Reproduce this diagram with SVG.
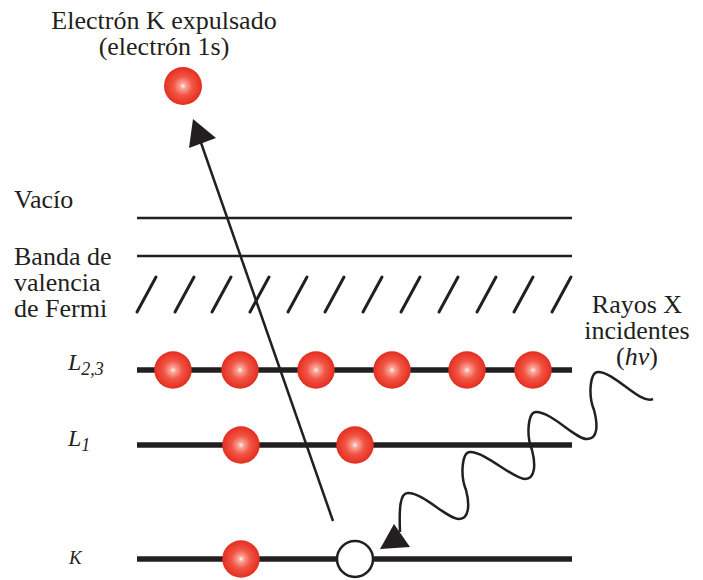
<svg xmlns="http://www.w3.org/2000/svg" width="703" height="580" viewBox="0 0 703 580">
<defs>
<radialGradient id="eg" cx="50%" cy="50%" r="50%">
<stop offset="0" stop-color="#fff6f2"/>
<stop offset="0.15" stop-color="#f9a598"/>
<stop offset="0.5" stop-color="#f25545"/>
<stop offset="0.85" stop-color="#e9392a"/>
<stop offset="1" stop-color="#df3022"/>
</radialGradient>
<style>
text{font-family:'Liberation Serif','Tinos','Times New Roman','DejaVu Serif',serif;font-size:26px;fill:#231f20}
.i{font-style:italic}
.thin{stroke:#231f20;stroke-width:2.5;fill:none}
.thick{stroke:#231f20;stroke-width:5.5;fill:none}
.sl{stroke:#231f20;stroke-width:3;stroke-linecap:round}
.e{fill:url(#eg)}
.h{fill:#fff;stroke:#231f20;stroke-width:2.5}
.c{stroke:#231f20;stroke-width:2.5;fill:none}
.ah{fill:#231f20}
</style>
</defs>
<rect width="703" height="580" fill="#fff"/>

<g id="title">
<text x="164" y="29" text-anchor="middle">Electrón K expulsado</text>
<text x="164" y="55" text-anchor="middle">(electrón 1s)</text>
</g>

<g id="labels">
<text x="14" y="208">Vacío</text>
<text x="14" y="265">Banda de</text>
<text x="14" y="291">valencia</text>
<text x="14" y="317">de Fermi</text>
<text class="i" x="68" y="370" style="font-size:24px">L<tspan dy="5" style="font-size:18px">2,3</tspan></text>
<text class="i" x="68" y="446" style="font-size:24px">L<tspan dy="5" style="font-size:18px">1</tspan></text>
<text class="i" x="69" y="564" style="font-size:19px">K</text>
<text x="637" y="313" text-anchor="middle">Rayos X</text>
<text x="637" y="339" text-anchor="middle">incidentes</text>
<text x="637" y="365" text-anchor="middle">(<tspan class="i">hv</tspan>)</text>
</g>

<g id="levels">
<line id="vacio" class="thin" x1="137" y1="218" x2="572" y2="218"/>
<line id="banda" class="thin" x1="137" y1="256" x2="572" y2="256"/>
<g id="fermi">
<line class="sl" x1="137" y1="312" x2="156" y2="277"/>
<line class="sl" x1="175" y1="312" x2="194" y2="277"/>
<line class="sl" x1="212" y1="312" x2="231" y2="277"/>
<line class="sl" x1="250" y1="312" x2="269" y2="277"/>
<line class="sl" x1="288" y1="312" x2="307" y2="277"/>
<line class="sl" x1="325" y1="312" x2="344" y2="277"/>
<line class="sl" x1="363" y1="312" x2="382" y2="277"/>
<line class="sl" x1="401" y1="312" x2="420" y2="277"/>
<line class="sl" x1="439" y1="312" x2="458" y2="277"/>
<line class="sl" x1="477" y1="312" x2="496" y2="277"/>
<line class="sl" x1="514" y1="312" x2="533" y2="277"/>
<line class="sl" x1="552" y1="312" x2="571" y2="277"/>
</g>
<line id="L23" class="thick" x1="137" y1="370" x2="572" y2="370"/>
<line id="L1" class="thick" x1="137" y1="445" x2="572" y2="445"/>
<line id="K" class="thick" x1="137" y1="559" x2="572" y2="559"/>
</g>

<g id="connectors">
<line class="c" x1="333" y1="521" x2="199" y2="137"/>
<polygon class="ah" points="193,119 189,148 216,138"/>
<path class="c" d="M653,399 C640,405 615,372 598,372 C590,372 588,395 594,410 C598,425 598,439 587,439 C575,439 552,412 536,412 C528,412 526,435 532,450 C536,465 535,479 525,479 C513,479 486,452 470,452 C462,452 460,475 466,490 C470,505 469,519 459,519 C447,519 424,493 408,493 C400,493 399,508 400,532"/>
<polygon class="ah" points="380,549 394,524 410,547"/>
</g>

<g id="e-free"><circle class="e" cx="183" cy="86" r="19"/></g>
<g id="e-L23-1"><circle class="e" cx="173" cy="370" r="18.7"/></g>
<g id="e-L23-2"><circle class="e" cx="240" cy="370" r="18.7"/></g>
<g id="e-L23-3"><circle class="e" cx="316" cy="370" r="18.7"/></g>
<g id="e-L23-4"><circle class="e" cx="392" cy="370" r="18.7"/></g>
<g id="e-L23-5"><circle class="e" cx="467" cy="370" r="18.7"/></g>
<g id="e-L23-6"><circle class="e" cx="533" cy="370" r="18.7"/></g>
<g id="e-L1-1"><circle class="e" cx="241" cy="445" r="18.7"/></g>
<g id="e-L1-2"><circle class="e" cx="355" cy="445" r="18.7"/></g>
<g id="e-K-1"><circle class="e" cx="241" cy="559" r="18.7"/></g>
<g id="hole-K"><circle class="h" cx="355" cy="559" r="18"/></g>
</svg>
